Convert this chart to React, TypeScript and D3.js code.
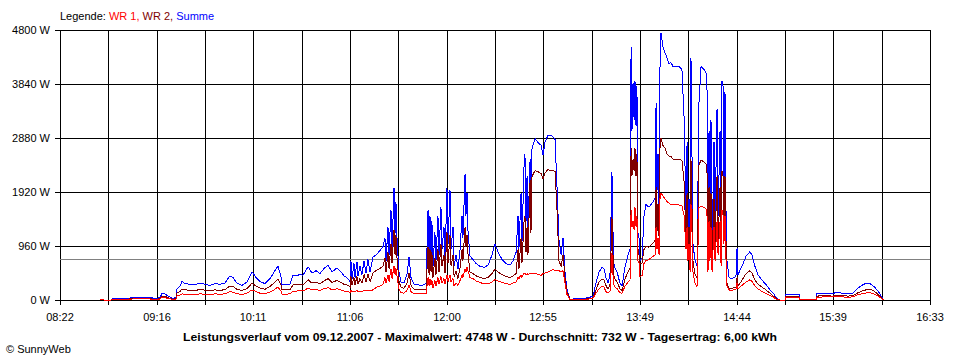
import React from 'react';
import * as d3 from 'd3';

// time of each sample, minutes since midnight
const times = [
  524.6, 525.7, 526.8, 530.8, 531.3, 535.9, 541.5, 544.3, 547.2, 551.7,
  555.6, 558.4, 559.6, 561.3, 563.0, 565.2, 567.5, 568.0, 569.7, 570.9,
  572.5, 575.4, 578.2, 581.0, 583.8, 586.7, 589.5, 592.3, 595.1, 597.9,
  599.6, 601.9, 604.7, 607.5, 610.4, 612.6, 614.9, 617.7, 620.5, 623.3,
  625.0, 626.7, 627.3, 629.0, 631.8, 633.5, 635.8, 637.5, 639.1, 642.0,
  644.2, 646.5, 648.7, 651.0, 653.3, 655.5, 658.3, 660.0, 662.3, 664.5,
  665.7, 666.2, 666.8, 667.9, 668.5, 669.6, 670.2, 671.3, 672.4, 673.6,
  674.7, 675.8, 677.0, 678.6, 680.3, 682.6, 684.3, 685.4, 686.0, 687.1,
  687.7, 688.8, 689.4, 690.5, 691.1, 691.6, 692.2, 693.3, 694.5, 696.1,
  697.8, 699.0, 700.1, 701.8, 704.0, 706.3, 708.6, 709.7, 710.3, 710.8,
  711.4, 711.9, 712.5, 713.6, 714.2, 715.3, 715.9, 717.0, 717.6, 718.7,
  719.3, 720.4, 721.0, 722.1, 722.7, 723.8, 724.4, 725.5, 726.6, 727.8,
  728.9, 729.4, 730.6, 731.1, 731.7, 732.3, 733.4, 735.1, 736.8, 739.0,
  741.3, 743.6, 745.8, 747.5, 749.2, 751.5, 753.7, 756.0, 757.7, 759.4,
  760.5, 761.0, 762.2, 762.7, 763.9, 764.4, 765.0, 765.6, 766.1, 767.3,
  767.8, 768.4, 770.1, 771.8, 773.5, 774.6, 775.7, 777.4, 779.1, 780.2,
  781.4, 782.5, 783.6, 784.8, 785.9, 787.0, 788.1, 789.8, 792.7, 795.5,
  798.3, 801.1, 802.8, 804.5, 806.2, 807.9, 809.0, 810.1, 811.3, 812.4,
  813.0, 813.5, 814.1, 814.7, 816.4, 818.0, 819.2, 820.9, 822.6, 823.7,
  824.3, 824.8, 825.4, 826.0, 826.5, 827.1, 827.6, 828.2, 828.8, 829.3,
  830.5, 831.6, 832.7, 834.4, 836.1, 837.8, 838.4, 838.9, 839.5, 840.1,
  840.6, 841.2, 842.3, 843.4, 844.6, 845.7, 846.8, 848.0, 849.7, 851.3,
  853.0, 854.2, 855.3, 855.9, 856.4, 857.0, 857.6, 858.1, 858.7, 859.2,
  860.4, 861.5, 862.6, 863.8, 865.5, 867.1, 867.7, 868.3, 868.8, 869.4,
  870.0, 871.1, 871.7, 872.8, 873.4, 874.5, 875.1, 875.6, 876.2, 876.7,
  877.3, 877.9, 878.4, 879.6, 880.7, 882.4, 883.5, 884.1, 884.6, 886.9,
  889.2, 891.4, 892.5, 894.2, 895.9, 898.2, 900.4, 902.7, 905.0, 906.7,
  908.4, 911.2, 911.7, 916.8, 919.1, 919.6, 928.7, 929.2, 933.7, 938.3,
  940.5, 943.3, 946.7, 949.5, 951.8, 954.6, 956.9, 959.1, 961.4, 963.7,
  965.9, 967.0,
];

// Summe (W)
const summe = [
  0, 20, 0, 0, 20, 25, 35, 50, 40, 45,
  30, 40, 120, 110, 70, 30, 40, 190, 250, 330,
  290, 280, 270, 300, 280, 260, 290, 280, 300, 430,
  400, 300, 260, 320, 500, 400, 330, 290, 380, 520,
  600, 420, 270, 270, 280, 440, 430, 460, 440, 590,
  480, 520, 470, 560, 620, 500, 570, 520, 430, 380,
  330, 700, 380, 650, 400, 680, 420, 600, 450, 700,
  480, 720, 500, 760, 800, 880, 950, 1100, 700, 1300,
  800, 1600, 900, 1985, 1200, 1750, 1100, 500, 320, 300,
  450, 770, 400, 280, 270, 260, 290, 1600, 700, 1500,
  800, 1400, 600, 1200, 700, 1500, 800, 1650, 900, 1300,
  700, 1985, 1000, 1950, 900, 1300, 600, 800, 550, 900,
  1500, 1100, 2240, 1500, 1900, 1200, 780, 720, 650, 600,
  580, 620, 800, 1000, 850, 720, 650, 620, 700, 850,
  1500, 900, 1900, 1000, 2400, 2600, 1400, 2200, 1200, 2500,
  1600, 2700, 2870, 2800, 2750, 2580, 2800, 2930, 2930, 2900,
  2850, 2000, 1067, 800, 1100, 500, 200, 0, 30, 20,
  30, 50, 70, 300, 500, 580, 560, 400, 300, 450,
  1500, 2280, 1200, 600, 500, 300, 250, 600, 800, 900,
  4500, 3000, 3850, 3200, 3900, 3100, 3800, 1200, 1100, 700,
  750, 1500, 1700, 1650, 1720, 1800, 3500, 1900, 2600, 1500,
  4100, 4748, 4500, 4400, 4300, 4200, 4220, 4150, 4160, 4150,
  4100, 3250, 1500, 2800, 1100, 1800, 700, 4300, 2500, 1000,
  700, 600, 3500, 4150, 4100, 4000, 1000, 3000, 1200, 3200,
  800, 2800, 1400, 3400, 1500, 3000, 1200, 3900, 3800, 2000,
  3700, 1500, 700, 400, 380, 400, 420, 920, 450, 600,
  780, 860, 800, 600, 450, 350, 280, 180, 100, 20,
  0, 0, 100, 100, 100, 10, 10, 120, 120, 115,
  140, 120, 110, 120, 200, 260, 300, 290, 240, 160,
  50, 0,
];

// WR 2 (W)
const wr2 = [
  0, 10, 0, 0, 10, 12, 18, 25, 20, 22,
  15, 20, 70, 65, 40, 15, 20, 120, 150, 195,
  180, 175, 170, 185, 175, 165, 180, 170, 185, 250,
  240, 190, 170, 200, 300, 250, 210, 190, 240, 320,
  370, 270, 180, 180, 185, 270, 270, 280, 270, 360,
  300, 320, 290, 340, 380, 310, 350, 320, 280, 260,
  230, 420, 260, 400, 270, 420, 280, 380, 300, 450,
  320, 460, 330, 480, 520, 560, 600, 750, 500, 850,
  560, 1000, 650, 1250, 800, 1150, 750, 330, 220, 210,
  290, 480, 260, 190, 180, 180, 190, 950, 450, 900,
  500, 850, 400, 750, 450, 900, 500, 1000, 600, 800,
  480, 1200, 650, 1150, 600, 800, 420, 520, 380, 580,
  900, 700, 1300, 950, 1150, 800, 500, 470, 430, 400,
  380, 400, 470, 550, 500, 450, 420, 400, 430, 470,
  900, 550, 1100, 650, 1400, 1500, 850, 1300, 800, 2130,
  1200, 2200, 2300, 2280, 2250, 2150, 2260, 2320, 2300, 2300,
  2280, 1600, 700, 600, 800, 400, 150, 0, 15, 10,
  15, 25, 40, 180, 320, 370, 360, 260, 190, 280,
  900, 1480, 800, 400, 320, 200, 170, 380, 500, 560,
  2700, 2200, 2500, 2300, 2700, 2200, 2600, 900, 800, 650,
  660, 900, 950, 940, 1000, 1050, 2000, 1200, 1700, 1100,
  2700, 2880, 2750, 2700, 2600, 2560, 2550, 2500, 2500, 2500,
  2480, 2100, 1100, 1900, 900, 1300, 600, 2500, 1600, 700,
  450, 400, 2400, 2490, 2450, 2400, 800, 2000, 900, 1900,
  700, 1800, 1000, 2200, 1000, 2000, 900, 2300, 2200, 1400,
  2200, 1000, 300, 200, 200, 220, 230, 400, 250, 350,
  470, 520, 480, 360, 280, 230, 180, 120, 60, 10,
  0, 0, 60, 60, 55, 5, 5, 70, 75, 70,
  80, 75, 70, 75, 120, 160, 180, 190, 160, 100,
  30, 0,
];

// WR 1 (W)
const wr1 = [
  0, 8, 0, 0, 8, 10, 15, 20, 18, 20,
  12, 18, 45, 40, 30, 12, 15, 70, 90, 110,
  100, 100, 95, 110, 100, 95, 110, 100, 110, 150,
  140, 110, 100, 120, 180, 150, 120, 110, 140, 190,
  230, 160, 100, 100, 110, 160, 160, 170, 160, 210,
  180, 190, 170, 200, 220, 180, 200, 185, 160, 150,
  130, 170, 140, 160, 140, 170, 140, 160, 150, 170,
  160, 170, 160, 180, 220, 250, 280, 400, 300, 450,
  330, 550, 380, 600, 450, 560, 420, 200, 130, 120,
  170, 260, 150, 110, 110, 110, 120, 400, 250, 380,
  270, 350, 220, 350, 250, 400, 280, 420, 300, 380,
  280, 450, 330, 440, 320, 380, 250, 300, 260, 350,
  450, 400, 550, 500, 580, 520, 400, 380, 340, 310,
  290, 290, 320, 360, 340, 310, 290, 280, 300, 320,
  400, 380, 450, 400, 480, 480, 440, 470, 450, 480,
  460, 470, 480, 450, 440, 470, 480, 500, 520, 540,
  530, 520, 520, 500, 520, 300, 100, 0, 10, 8,
  10, 20, 30, 120, 200, 240, 230, 150, 120, 160,
  500, 830, 450, 250, 200, 130, 120, 250, 320, 360,
  1600, 1300, 1400, 1250, 1650, 1300, 1500, 700, 650, 420,
  430, 650, 700, 720, 760, 800, 1300, 900, 1100, 800,
  1800, 1900, 1850, 1800, 1750, 1720, 1700, 1700, 1700, 1690,
  1680, 1500, 900, 1300, 700, 1000, 500, 1700, 1200, 500,
  300, 240, 1650, 1660, 1650, 1600, 500, 1400, 700, 1300,
  500, 1300, 700, 1400, 800, 1400, 600, 1600, 1500, 1000,
  1500, 700, 250, 180, 170, 180, 190, 300, 200, 260,
  320, 360, 330, 250, 200, 150, 120, 80, 40, 5,
  0, 0, 50, 50, 45, 5, 5, 50, 55, 55,
  60, 55, 50, 55, 90, 110, 125, 130, 110, 70,
  20, 0,
];

const yTicks = [0, 960, 1920, 2880, 3840, 4800];
const timeLabels = ['08:22', '09:16', '10:11', '11:06', '12:00', '12:55', '13:49', '14:44', '15:39', '16:33'];
const startMin = 502; // 08:22
const endMin = 993; // 16:33
const average = 732;
const caption = 'Leistungsverlauf vom 09.12.2007 - Maximalwert: 4748 W - Durchschnitt: 732 W - Tagesertrag: 6,00 kWh';

const W = 960;
const H = 360;
const left = 60, right = 930, top = 30, bottom = 300;
const font = '"Liberation Sans", Arial, sans-serif';

export default function App() {
  const x = d3.scaleLinear().domain([startMin, endMin]).range([left, right]);
  const y = d3.scaleLinear().domain([0, 4800]).range([bottom, top]);

  // 18 grid intervals, labels on every second one
  const gridTimes = d3.range(19).map(i => startMin + (i * (endMin - startMin)) / 18);
  const px = (v: number) => Math.round(v) + 0.5;

  const line = d3.line<number>()
    .x((_, i) => x(times[i]))
    .y(v => y(v));

  const series = [
    { name: 'Summe', values: summe, color: '#0000ff' },
    { name: 'WR 2', values: wr2, color: '#800000' },
    { name: 'WR 1', values: wr1, color: '#ff0000' },
  ];

  return (
    <svg width={W} height={H} style={{ position: 'absolute', left: 0, top: 0, background: '#fff' }}
      fontFamily={font} fontSize={11}>
      <rect x={0} y={0} width={W} height={H} fill="#fff" />

      <text x={left} y={20}>
        <tspan fill="#000">Legende: </tspan>
        <tspan fill="#ff0000">WR 1, </tspan>
        <tspan fill="#800000">WR 2, </tspan>
        <tspan fill="#0000ff">Summe</tspan>
      </text>

      {/* horizontal grid + y labels */}
      {yTicks.map(t => (
        <g key={'y' + t}>
          <line x1={left - 5} x2={right} y1={px(y(t))} y2={px(y(t))} stroke="#000" shapeRendering="crispEdges" />
          <text x={50} y={Math.round(y(t)) + 4} textAnchor="end">{t} W</text>
        </g>
      ))}

      {/* vertical grid + ticks */}
      {gridTimes.map((t, i) => (
        <line key={'x' + i} x1={px(x(t))} x2={px(x(t))} y1={top} y2={bottom + 5} stroke="#000" shapeRendering="crispEdges" />
      ))}
      {timeLabels.map((lab, i) => (
        <text key={lab} x={Math.round(x(gridTimes[i * 2]))} y={321} textAnchor="middle">{lab}</text>
      ))}

      {/* average line */}
      <line x1={left} x2={right} y1={px(y(average))} y2={px(y(average))} stroke="#808080" shapeRendering="crispEdges" />

      {series.map(s => (
        <path key={s.name} d={line(s.values) || ''} fill="none" stroke={s.color} strokeWidth={1} shapeRendering="crispEdges" />
      ))}

      <text x={183} y={341} fontWeight="bold" textLength={594} lengthAdjust="spacingAndGlyphs">{caption}</text>
      <text x={6} y={353}>© SunnyWeb</text>
    </svg>
  );
}
